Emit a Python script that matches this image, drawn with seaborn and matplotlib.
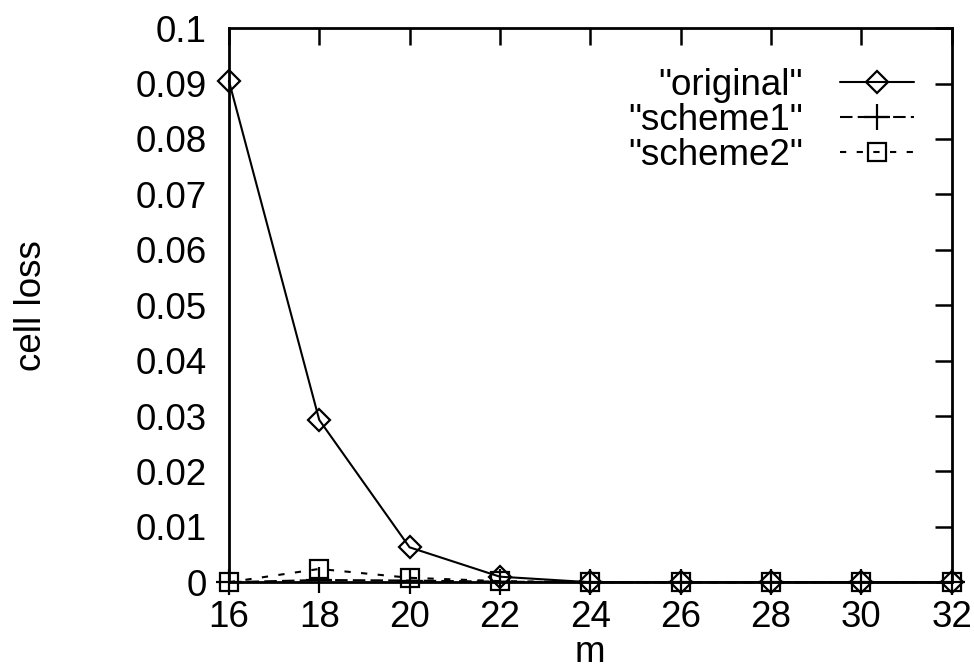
import seaborn as sns
import pandas as pd
import matplotlib.pyplot as plt

# Data
m = [16, 18, 20, 22, 24, 26, 28, 30, 32]
original = [0.0905, 0.0293, 0.0063, 0.0010, 0.0, 0.0, 0.0, 0.0, 0.0]
scheme1 = [0.0, 0.0004, 0.0003, 0.0001, 0.0, 0.0, 0.0, 0.0, 0.0]
scheme2 = [0.0, 0.0024, 0.0008, 0.0002, 0.0, 0.0, 0.0, 0.0, 0.0]

series = ['"original"', '"scheme1"', '"scheme2"']
values = [original, scheme1, scheme2]
markers = ['D', '+', 's']
dashes = [None, (6, 2.5), (3, 5)]
msizes = [11, 19, 13]

sns.set_style('white')
plt.rcParams['font.family'] = ['Liberation Sans', 'DejaVu Sans']
plt.rcParams['text.color'] = 'black'
plt.rcParams['axes.labelcolor'] = 'black'

fig = plt.figure(figsize=(9.74, 6.7), dpi=100)
ax = fig.add_axes([0.235, 0.131, 0.742, 0.827])

for name, vals, mk, ds, ms in zip(series, values, markers, dashes, msizes):
    df = pd.DataFrame({'m': m, 'cell loss': vals})
    kw = {} if ds is None else {'dashes': ds}
    sns.lineplot(data=df, x='m', y='cell loss', color='black', marker=mk,
                 markersize=ms, markerfacecolor='none', markeredgecolor='black',
                 markeredgewidth=1.6, linewidth=1.5, label=name, ax=ax,
                 clip_on=False, **kw)

ax.set_xlim(16, 32)
ax.set_ylim(0, 0.1)
ax.set_xticks(m)
ax.set_yticks([i / 100 for i in range(11)])
ax.set_yticklabels(['0'] + [f'{i/100:g}' for i in range(1, 11)])
ax.tick_params(direction='in', length=12, width=1.8, top=True, right=True,
               labelsize=26.5, pad=16, colors='black')
ax.tick_params(axis='x', pad=13)
for s in ax.spines.values():
    s.set_linewidth(2)
    s.set_color('black')
ax.set_xlabel('m', fontsize=26.5, labelpad=0)
ax.set_ylabel('cell loss', fontsize=26.5, labelpad=62)

leg = ax.legend(loc='upper right', markerfirst=False, frameon=False,
                fontsize=26.5, handlelength=2.0, labelspacing=0.0,
                borderaxespad=0.3, handletextpad=1.0,
                bbox_to_anchor=(0.983, 0.975))
for t in leg.get_texts():
    t.set_color('black')

plt.savefig('out.png', dpi=100)
